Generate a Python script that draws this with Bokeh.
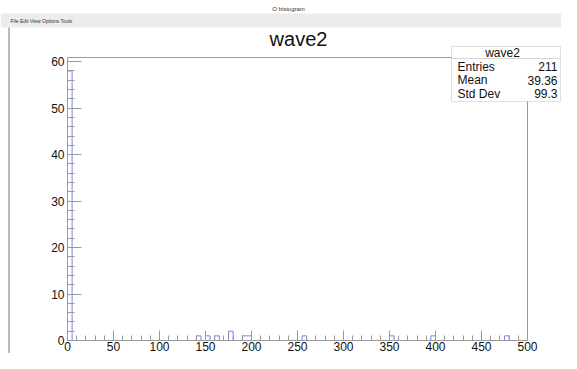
from bokeh.plotting import figure
from bokeh.models import Range1d, SingleIntervalTicker, Label, BoxAnnotation
from bokeh.embed import file_html
from bokeh.resources import INLINE

# ---- data ----
bin_edges = list(range(0, 505, 5))            # 100 bins of width 5, 0..500
filled_bin_low = [0, 140, 150, 160, 175, 190, 195, 255, 350, 395, 475]
filled_bin_count = [58, 1, 1, 1, 2, 1, 1, 1, 1, 1, 1]
hist_title = "wave2"
stats_names = ["Entries", "Mean", "Std Dev"]
stats_values = ["211", "39.36", "99.3"]
x_min, x_max = 0, 500
y_min, y_max = 0, 60.9
window_title = "O histogram"
menu_text = "File   Edit   View   Options   Tools"

counts = [0] * (len(bin_edges) - 1)
for lo, c in zip(filled_bin_low, filled_bin_count):
    counts[lo // 5] = c
step_y = counts + [counts[-1]]

# ---- layout: pixel geometry of the ROOT frame inside the canvas ----
W, H = 561, 353
FL, FR, FT, FB = 67, 527, 57, 340

def ax(px):
    return x_min + (px - FL) / (FR - FL) * (x_max - x_min)

def ay(py):
    return y_min + (FB - py) / (FB - FT) * (y_max - y_min)

FONT = "Liberation Sans"
GRAY = "#9a9a9a"
TXT = "#111111"

p = figure(width=W, height=H, output_backend="svg", toolbar_location=None,
           x_range=Range1d(ax(0), ax(W)), y_range=Range1d(ay(H), ay(0)),
           min_border=0)
p.background_fill_color = "white"
p.border_fill_color = "white"
p.outline_line_color = None
p.grid.visible = False

p.xaxis.ticker = SingleIntervalTicker(interval=50, num_minor_ticks=5)
p.yaxis.ticker = SingleIntervalTicker(interval=10, num_minor_ticks=5)
p.xaxis.fixed_location = y_min
p.yaxis.fixed_location = x_min
p.xaxis.bounds = (x_min, x_max)
p.yaxis.bounds = (y_min, y_max)
for a in (p.xaxis[0], p.yaxis[0]):
    a.axis_line_color = GRAY
    a.major_tick_line_color = GRAY
    a.minor_tick_line_color = GRAY
    a.major_tick_out = 0
    a.minor_tick_out = 0
    a.major_label_text_font = FONT
    a.major_label_text_font_size = "12px"
    a.major_label_text_color = TXT
p.xaxis.major_tick_in = 10
p.xaxis.minor_tick_in = 5
p.yaxis.major_tick_in = 14
p.yaxis.minor_tick_in = 7
p.xaxis.major_label_standoff = 1
p.yaxis.major_label_standoff = 3

# frame (top and right sides)
p.line(x=[x_min, x_max, x_max], y=[y_max, y_max, y_min], line_color=GRAY, line_width=1)

# histogram outline
p.step(x=bin_edges, y=step_y, mode="after", line_color="#7f7fe0", line_width=1)

# window chrome
p.add_layout(BoxAnnotation(left=ax(0), right=ax(W), top=ay(13), bottom=ay(27),
                           fill_color="#ececec", fill_alpha=1, line_alpha=0, level="annotation"))
p.add_layout(BoxAnnotation(left=ax(8), right=ax(9), top=ay(27), bottom=ay(H),
                           fill_color="#777777", fill_alpha=1, line_alpha=0, level="annotation"))
p.add_layout(Label(x=ax(288), y=ay(8), text=window_title, text_align="center",
                   text_baseline="middle", text_font=FONT, text_font_size="6px",
                   text_color="#333333", level="overlay"))
p.add_layout(Label(x=ax(10), y=ay(20), text=menu_text, text_align="left",
                   text_baseline="middle", text_font=FONT, text_font_size="5px",
                   text_color="#333333", level="overlay"))

# title
p.add_layout(Label(x=ax(298), y=ay(38), text=hist_title, text_align="center",
                   text_baseline="middle", text_font=FONT, text_font_size="20px",
                   text_color=TXT, level="overlay"))

# stats box
SB_L, SB_R, SB_T, SB_M, SB_B = 451, 560, 46, 58, 101
p.add_layout(BoxAnnotation(left=ax(SB_L), right=ax(SB_R), top=ay(SB_T), bottom=ay(SB_M),
                           fill_color="white", fill_alpha=1, line_color=GRAY, line_width=1,
                           level="annotation"))
p.add_layout(BoxAnnotation(left=ax(SB_L), right=ax(SB_R), top=ay(SB_M), bottom=ay(SB_B),
                           fill_color="white", fill_alpha=1, line_color=GRAY, line_width=1,
                           level="annotation"))
p.add_layout(Label(x=ax(502), y=ay(52), text=hist_title, text_align="center",
                   text_baseline="middle", text_font=FONT, text_font_size="12px",
                   text_color=TXT, level="overlay"))
row_y = [66, 79.5, 93]
for name, val, ry in zip(stats_names, stats_values, row_y):
    p.add_layout(Label(x=ax(457), y=ay(ry), text=name, text_align="left",
                       text_baseline="middle", text_font=FONT, text_font_size="12px",
                       text_color=TXT, level="overlay"))
    p.add_layout(Label(x=ax(557), y=ay(ry), text=val, text_align="right",
                       text_baseline="middle", text_font=FONT, text_font_size="12px",
                       text_color=TXT, level="overlay"))

open("out.html", "w").write(file_html(p, INLINE))
